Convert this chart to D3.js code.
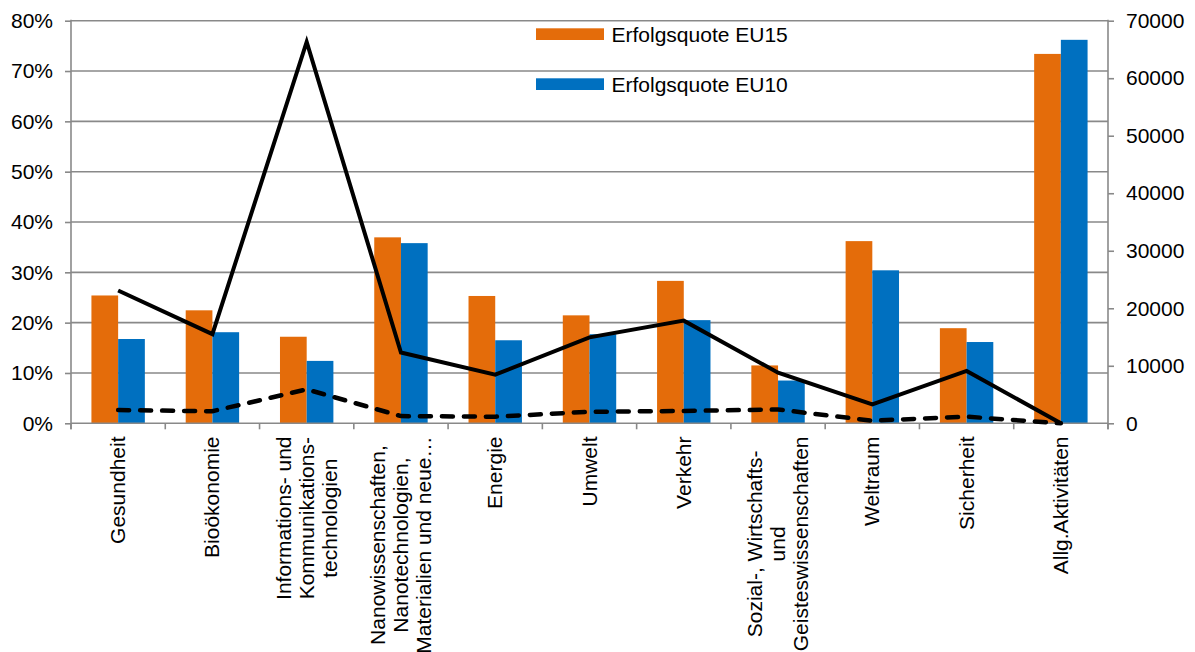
<!DOCTYPE html>
<html>
<head>
<meta charset="utf-8">
<script src="https://cdn.jsdelivr.net/npm/d3@7"></script>
<style>
  html, body { margin: 0; padding: 0; background: #fff; }
  svg text { font-family: "Liberation Sans", Arial, sans-serif; fill: #000; }
</style>
</head>
<body>
<svg id="chart" width="1195" height="652"></svg>
<script>
const categories = ["Gesundheit", "Bioökonomie", "IKT", "Nano", "Energie", "Umwelt", "Verkehr", "SWG", "Weltraum", "Sicherheit", "Allg"];
const categoryLabels = [
  ["Gesundheit"],
  ["Bioökonomie"],
  ["Informations- und", "Kommunikations-", "technologien"],
  ["Nanowissenschaften,", "Nanotechnologien,", "Materialien und neue…"],
  ["Energie"],
  ["Umwelt"],
  ["Verkehr"],
  ["Sozial-, Wirtschafts-", "und", "Geisteswissenschaften"],
  ["Weltraum"],
  ["Sicherheit"],
  ["Allg.Aktivitäten"]
];
const seriesNames = ["Erfolgsquote EU15", "Erfolgsquote EU10"];
const quoteEU15 = [0.254, 0.2245, 0.172, 0.3695, 0.253, 0.2145, 0.283, 0.115, 0.362, 0.189, 0.734];
const quoteEU10 = [0.1675, 0.181, 0.124, 0.358, 0.165, 0.177, 0.205, 0.085, 0.304, 0.1615, 0.762];
const solidLine = [23100, 15500, 66300, 12300, 8450, 14950, 17850, 8800, 3300, 9100, 0];
const dashedLine = [2300, 2100, 5900, 1250, 1150, 2000, 2150, 2400, 450, 1150, 0];
const leftTicks = [0, 0.1, 0.2, 0.3, 0.4, 0.5, 0.6, 0.7, 0.8];
const rightTicks = [0, 10000, 20000, 30000, 40000, 50000, 60000, 70000];

const svg = d3.select("#chart");
const L = 71, R = 1108, T = 20.7, B = 423.3;
const FS = 21;
const gridColor = "#898989";

const x = d3.scaleBand().domain(categories).range([L, R]).padding(0);
const x1 = d3.scaleBand().domain(seriesNames).range([0, x.bandwidth()]).paddingInner(0).paddingOuter(0.765);
const yL = d3.scaleLinear().domain([0, 0.8]).range([B, T]);
const yR = d3.scaleLinear().domain([0, 70000]).range([B, T]);
const colors = { "Erfolgsquote EU15": "#E46C0A", "Erfolgsquote EU10": "#0070C0" };

// gridlines
svg.append("g").selectAll("line").data(leftTicks.slice(1)).join("line")
  .attr("x1", L).attr("x2", R).attr("y1", d => yL(d)).attr("y2", d => yL(d))
  .attr("stroke", gridColor).attr("stroke-width", 1.6);

// bars
const barData = categories.map((c, i) => ({ c, vals: [quoteEU15[i], quoteEU10[i]] }));
const groups = svg.append("g").selectAll("g").data(barData).join("g")
  .attr("transform", d => `translate(${x(d.c)},0)`);
groups.selectAll("rect").data(d => d.vals.map((v, k) => ({ s: seriesNames[k], v }))).join("rect")
  .attr("x", d => x1(d.s)).attr("width", x1.bandwidth())
  .attr("y", d => yL(d.v)).attr("height", d => B - yL(d.v))
  .attr("fill", d => colors[d.s]);

// axes
const axisL = d3.axisLeft(yL).tickValues(leftTicks).tickFormat(d3.format(".0%")).tickSize(6).tickPadding(12);
const gL = svg.append("g").attr("transform", `translate(${L},0)`).call(axisL);
const axisR = d3.axisRight(yR).tickValues(rightTicks).tickFormat(d => String(d)).tickSize(6).tickPadding(12);
const gR = svg.append("g").attr("transform", `translate(${R},0)`).call(axisR);
const axisB = d3.axisBottom(x).tickValues([]).tickSize(0);
const gB = svg.append("g").attr("transform", `translate(0,${B})`).call(axisB);
[gL, gR, gB].forEach(g => {
  g.select(".domain").remove();
  g.selectAll(".tick line").attr("stroke", gridColor).attr("stroke-width", 1.6);
  g.selectAll(".tick text").attr("font-size", FS).attr("font-family", "Liberation Sans, Arial, sans-serif").attr("fill", "#000");
});
// axis lines
svg.append("line").attr("x1", L).attr("x2", L).attr("y1", T - 1).attr("y2", B + 6).attr("stroke", gridColor).attr("stroke-width", 1.6);
svg.append("line").attr("x1", R).attr("x2", R).attr("y1", T - 1).attr("y2", B + 6).attr("stroke", gridColor).attr("stroke-width", 1.6);
svg.append("line").attr("x1", L).attr("x2", R).attr("y1", B).attr("y2", B).attr("stroke", gridColor).attr("stroke-width", 1.6);
// category tick marks
const boundaries = categories.map(c => x(c)).concat([R]);
svg.append("g").selectAll("line").data(boundaries).join("line")
  .attr("x1", d => d).attr("x2", d => d).attr("y1", B).attr("y2", B + 6)
  .attr("stroke", gridColor).attr("stroke-width", 1.6);

// lines
const cx = c => x(c) + x.bandwidth() / 2;
const lineGen = d3.line().x(d => cx(d.c)).y(d => yR(d.v));
svg.append("path").datum(categories.map((c, i) => ({ c, v: solidLine[i] })))
  .attr("d", lineGen).attr("fill", "none").attr("stroke", "#000").attr("stroke-width", 4).attr("stroke-linejoin", "miter");
svg.append("path").datum(categories.map((c, i) => ({ c, v: dashedLine[i] })))
  .attr("d", lineGen).attr("fill", "none").attr("stroke", "#000").attr("stroke-width", 4.5)
  .attr("stroke-dasharray", "11,11").attr("stroke-linecap", "round");

// category labels (rotated)
const topY = 436.5;
const lh = 23;
categories.forEach((c, i) => {
  const lines = categoryLabels[i];
  const g = svg.append("g");
  const texts = lines.map(t => g.append("text").attr("font-size", FS).attr("text-anchor", "middle").text(t));
  const maxLen = d3.max(texts, t => t.node().getComputedTextLength());
  const n = lines.length;
  texts.forEach((t, k) => {
    const off = (k - (n - 1) / 2) * lh;
    t.attr("transform", `translate(${cx(c) + off + 7},${topY + maxLen / 2}) rotate(-90)`);
  });
});

// legend
const legY = [28.3, 78.3];
seriesNames.forEach((s, k) => {
  svg.append("rect").attr("x", 536).attr("y", legY[k]).attr("width", 68).attr("height", 11.7).attr("fill", colors[s]);
  svg.append("text").attr("x", 611.5).attr("y", legY[k] + 13.5).attr("font-size", FS).text(s);
});
</script>
</body>
</html>
